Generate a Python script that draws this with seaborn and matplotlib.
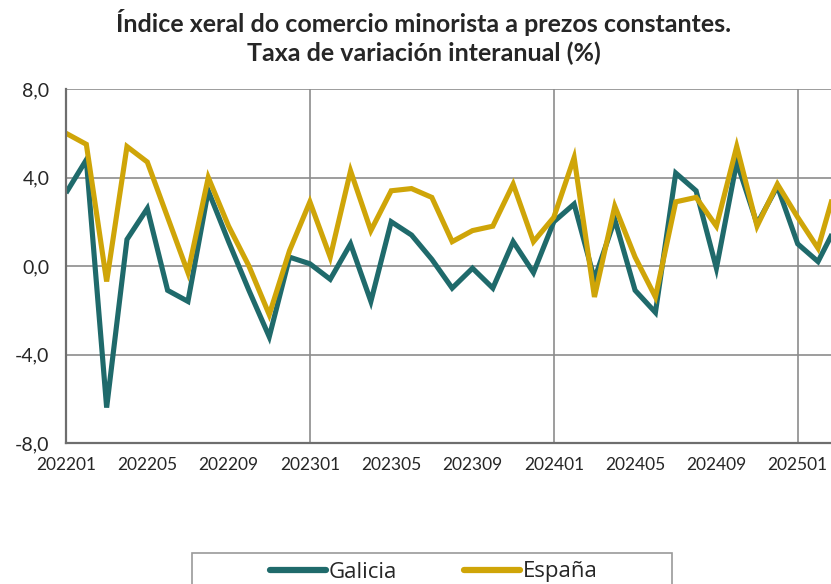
import numpy as np
import pandas as pd
import matplotlib
matplotlib.use("Agg")
import matplotlib.pyplot as plt
from matplotlib.ticker import FuncFormatter, MultipleLocator
from matplotlib.patches import Rectangle
import seaborn as sns

# monthly year-on-year change (%), starting at 202201
galicia = [3.3, 4.8, -6.4, 1.2, 2.6, -1.1, -1.6, 3.4, 1.1, -1.1, -3.2, 0.4,
           0.1, -0.6, 1.0, -1.6, 2.0, 1.4, 0.3, -1.0, -0.1, -1.0, 1.1, -0.3,
           2.0, 2.8, -0.6, 2.1, -1.1, -2.1, 4.2, 3.4, -0.1, 4.7, 1.9, 3.6,
           1.0, 0.2, 2.0]
espana = [6.0, 5.5, -0.7, 5.4, 4.7, 2.2, -0.3, 4.0, 1.8, 0.0, -2.2, 0.7,
          2.9, 0.4, 4.3, 1.6, 3.4, 3.5, 3.1, 1.1, 1.6, 1.8, 3.7, 1.1,
          2.2, 4.9, -1.4, 2.7, 0.4, -1.4, 2.9, 3.1, 1.8, 5.4, 1.8, 3.7,
          2.2, 0.8, 4.0]
tick_labels = ["202201", "202205", "202209", "202301", "202305", "202309",
               "202401", "202405", "202409", "202501"]
series_names = ["Galicia", "España"]
colors = {"Galicia": "#1f6a6b", "España": "#cfa508"}

df = pd.DataFrame({
    "mes": list(range(len(galicia))) * 2,
    "valor": galicia + espana,
    "serie": ["Galicia"] * len(galicia) + ["España"] * len(espana),
})

sns.set_style("white")
plt.rcParams["font.family"] = ["Lato", "DejaVu Sans"]

fig = plt.figure(figsize=(8.31, 5.84), dpi=100)
ax = fig.add_axes([66 / 831, 1 - 443 / 584, 813 / 831, 354 / 584])

sns.lineplot(data=df, x="mes", y="valor", hue="serie", hue_order=series_names,
             palette=colors, linewidth=3.7, ax=ax, legend=False)
for ln in ax.get_lines():
    ln.set_solid_joinstyle("miter")
    ln.set_solid_capstyle("butt")

ax.yaxis.set_major_locator(MultipleLocator(4))
ax.yaxis.set_major_formatter(FuncFormatter(lambda v, p: f"{v:.1f}".replace(".", ",")))
ax.set_xticks(range(0, 4 * len(tick_labels), 4))
ax.set_xticklabels(tick_labels)
ax.set_xlim(0, 40)
ax.set_ylim(-8, 8)
ax.set_xlabel("")
ax.set_ylabel("")

ax.grid(False)
for v in (-4, 0, 4, 8):
    ax.axhline(v, color="#8c8c8c", lw=1.2, zorder=0)
for m in (12, 24, 36):
    ax.axvline(m, color="#8c8c8c", lw=1.2, zorder=0)

for s in ("top", "right"):
    ax.spines[s].set_visible(False)
for s in ("left", "bottom"):
    ax.spines[s].set_color("#6e6e6e")
    ax.spines[s].set_linewidth(1.6)

ax.tick_params(axis="y", length=6, width=1.2, color="#8c8c8c", labelsize=14, pad=6)
ax.tick_params(axis="x", length=0, labelsize=12.5, pad=10)

fig.suptitle("Índice xeral do comercio minorista a prezos constantes.\n"
             "Taxa de variación interanual (%)",
             x=0.51, y=0.985, fontsize=18, fontweight="bold", linespacing=1.3)

# legend box below the chart
fig.patches.append(Rectangle((192 / 831, -0.05), 480 / 831, (584 - 553) / 584 + 0.05,
                             transform=fig.transFigure, fill=False,
                             edgecolor="#9a9a9a", lw=1.2))
handles = [plt.Line2D([], [], color=colors[n], lw=4.5, solid_capstyle="round")
           for n in series_names]
fig.legend(handles, series_names, loc="center", bbox_to_anchor=(434 / 831, 1 - 572 / 584),
           ncol=2, frameon=False, handlelength=2.5, handletextpad=0.15,
           columnspacing=3.0, prop={"family": ["Open Sans", "DejaVu Sans"], "size": 16})

fig.savefig("out.png", dpi=100)
